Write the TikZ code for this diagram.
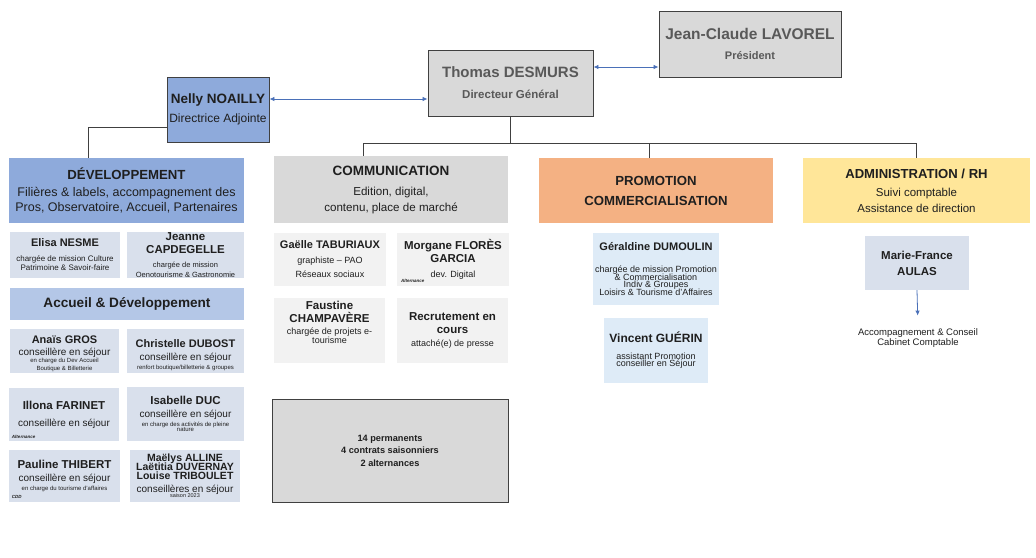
\documentclass[tikz,border=0pt]{standalone}
\usepackage{fontspec}
\setmainfont{Liberation Sans}
\usetikzlibrary{arrows.meta}

\definecolor{boxgray}{HTML}{D9D9D9}
\definecolor{palegray}{HTML}{F2F2F2}
\definecolor{devblue}{HTML}{8EAADB}
\definecolor{accblue}{HTML}{B4C7E7}
\definecolor{subblue}{HTML}{D9E0EC}
\definecolor{paleblue}{HTML}{DEEBF7}
\definecolor{promoorange}{HTML}{F4B183}
\definecolor{adminyellow}{HTML}{FFE699}
\definecolor{txtgray}{HTML}{595959}
\definecolor{txtdark}{HTML}{1F1F1F}
\definecolor{linegray}{HTML}{404040}
\definecolor{arrowblue}{HTML}{4A70B8}

\newcommand{\setfs}[1]{\fontsize{#1}{0}\selectfont}
\newcommand{\bfs}[1]{\fontsize{#1}{0}\selectfont\bfseries}

\begin{document}
\begin{tikzpicture}[x=1pt,y=-1pt,
    box/.style={rectangle,align=center,inner sep=1pt,text=txtdark,font=\setfs{10},
        execute at begin node={\lineskiplimit=-50pt}},
    framed/.style={box,draw=linegray,line width=0.9pt},
    wh/.style 2 args={minimum width=#1,minimum height=#2},
    link/.style={draw=linegray,line width=0.9pt},
    biarrow/.style={draw=arrowblue,line width=0.8pt,
        {Latex[length=5pt,width=4.5pt]}-{Latex[length=5pt,width=4.5pt]}},
    onearrow/.style={draw=arrowblue,line width=0.8pt,-{Latex[length=5pt,width=4.5pt]}},
    note/.style={font=\setfs{4.5}\bfseries\itshape,inner sep=0pt,anchor=south west,text=txtdark}]
\useasboundingbox (0,0) rectangle (1036,557);

% direction
\node[framed,fill=boxgray,wh={182}{66},text=txtgray] (Lavorel) at (750,44)
    {\bfs{15.5}Jean-Claude LAVOREL\\[20pt]\bfs{11}Président};
\node[framed,fill=boxgray,wh={165}{66},text=txtgray] (Desmurs) at (510.5,83)
    {\bfs{15}Thomas DESMURS\\[21pt]\bfs{11.5}Directeur Général};
\node[framed,fill=devblue,wh={102}{65}] (Noailly) at (218,109.5)
    {\bfs{13.5}Nelly NOAILLY\\[19pt]\setfs{12}Directrice Adjointe};

% developpement
\node[box,fill=devblue,wh={235}{65}] (Dev) at (126.5,190.5)
    {\bfs{13.2}DÉVELOPPEMENT\\[17pt]\setfs{12.5}Filières \& labels, accompagnement des\\[15pt]\setfs{12.5}Pros, Observatoire, Accueil, Partenaires};
\node[box,fill=subblue,wh={110}{46}] (Nesme) at (65,255)
    {\bfs{11}Elisa NESME\\[15pt]\setfs{8}chargée de mission Culture\\[9pt]\setfs{8}Patrimoine \& Savoir-faire};
\node[box,fill=subblue,wh={117}{46}] (Capdegelle) at (185.5,255)
    {\bfs{11.5}Jeanne\\[13pt]\bfs{11.5}CAPDEGELLE\\[14pt]\setfs{7.5}chargée de mission\\[10pt]\setfs{7.5}Oenotourisme \& Gastronomie};
\node[box,fill=accblue,wh={234}{32}] (Accueil) at (127,304)
    {\bfs{13.6}Accueil \& Développement};
\node[box,fill=subblue,wh={109}{44}] (Gros) at (64.5,351)
    {\mbox{}\\[13.5pt]\bfs{11}Anaïs GROS\\[11.5pt]\setfs{10}conseillère en séjour\\[7.5pt]\setfs{6}en charge du Dev Accueil\\[8pt]\setfs{6}Boutique \& Billetterie};
\node[box,fill=subblue,wh={117}{44}] (Dubost) at (185.5,351)
    {\mbox{}\\[15.5pt]\bfs{11}Christelle DUBOST\\[13.5pt]\setfs{10}conseillère en séjour\\[8.5pt]\setfs{6}renfort boutique/billetterie \& groupes};
\node[box,fill=subblue,wh={110}{53}] (Farinet) at (64,414.5)
    {\bfs{11.5}Illona FARINET\\[17pt]\setfs{10}conseillère en séjour};
\node[note] (FarinetAlt) at ([xshift=3pt,yshift=2pt]Farinet.south west) {Alternance};
\node[box,fill=subblue,wh={117}{54}] (Duc) at (185.5,414)
    {\bfs{11.5}Isabelle DUC\\[13pt]\setfs{10}conseillère en séjour\\[9pt]\setfs{6}en charge des activités de pleine\\[5pt]\setfs{6}nature};
\node[box,fill=subblue,wh={111}{52}] (Thibert) at (64.5,476)
    {\bfs{11.5}Pauline THIBERT\\[13pt]\setfs{10}conseillère en séjour\\[9pt]\setfs{6}en charge du tourisme d'affaires};
\node[note] (ThibertCdd) at ([xshift=3pt,yshift=3pt]Thibert.south west) {CDD};
\node[box,fill=subblue,wh={110}{52}] (Saison) at (185,476)
    {\bfs{10.5}Maëlys ALLINE\\[9pt]\bfs{10.5}Laëtitia DUVERNAY\\[9pt]\bfs{10.5}Louise TRIBOULET\\[13pt]\setfs{10}conseillères en séjour\\[5pt]\setfs{5.5}saison 2023};

% communication
\node[box,fill=boxgray,wh={234}{67}] (Comm) at (391,189.5)
    {\bfs{13.5}COMMUNICATION\\[20pt]\setfs{11.6}Edition, digital,\\[16pt]\setfs{11.6}contenu, place de marché};
\node[box,fill=palegray,wh={112}{53}] (Taburiaux) at (330,259.5)
    {\bfs{11}Gaëlle TABURIAUX\\[15pt]\setfs{9}graphiste – PAO\\[14pt]\setfs{9}Réseaux sociaux};
\node[box,fill=palegray,wh={112}{53}] (Flores) at (453,259.5)
    {\bfs{11.5}Morgane FLORÈS\\[13pt]\bfs{11.5}GARCIA\\[15pt]\setfs{9}dev. Digital};
\node[note] (FloresAlt) at ([xshift=4pt,yshift=3pt]Flores.south west) {Alternance};
\node[box,fill=palegray,wh={111}{65}] (Champavere) at (329.5,330.5)
    {\bfs{11.5}Faustine\\[13pt]\bfs{11.5}CHAMPAVÈRE\\[12pt]\setfs{9}chargée de projets e-\\[9pt]\setfs{9}tourisme\\[17pt]\mbox{}};
\node[box,fill=palegray,wh={111}{65}] (Presse) at (452.5,330.5)
    {\bfs{11.5}Recrutement en\\[13pt]\bfs{11.5}cours\\[13pt]\setfs{9}attaché(e) de presse};
\node[framed,fill=boxgray,wh={236}{103}] (Effectif) at (390,450.5)
    {\bfs{9.2}14 permanents\\[12.5pt]\bfs{9.2}4 contrats saisonniers\\[12.5pt]\bfs{9.2}2 alternances};

% promotion
\node[box,fill=promoorange,wh={234}{65}] (Promo) at (656,190.5)
    {\bfs{13.2}PROMOTION\\[20pt]\bfs{13.2}COMMERCIALISATION};
\node[box,fill=paleblue,wh={126}{72}] (Dumoulin) at (656,269)
    {\bfs{11}Géraldine DUMOULIN\\[22pt]\setfs{9}chargée de mission Promotion\\[8pt]\setfs{9}\& Commercialisation\\[7pt]\setfs{9}Indiv \& Groupes\\[8pt]\setfs{9}Loisirs \& Tourisme d'Affaires};
\node[box,fill=paleblue,wh={104}{65}] (Guerin) at (656,350.5)
    {\bfs{12}Vincent GUÉRIN\\[17pt]\setfs{9}assistant Promotion\\[7pt]\setfs{9}conseiller en Séjour};

% administration
\node[box,fill=adminyellow,wh={227}{65}] (Admin) at (916.5,190.5)
    {\bfs{13.1}ADMINISTRATION / RH\\[18pt]\setfs{11.5}Suivi comptable\\[16pt]\setfs{11.5}Assistance de direction};
\node[box,fill=subblue,wh={104}{54}] (Aulas) at (917,263)
    {\bfs{11.5}Marie-France\\[16pt]\bfs{11.5}AULAS};
\node[box] (Cabinet) at (918,338)
    {\setfs{9.5}Accompagnement \& Conseil\\[9.5pt]\setfs{9.5}Cabinet Comptable};

% liaisons
\coordinate (bus) at ([yshift=-27pt]Desmurs.south);
\draw[link] (Desmurs.south) -- (bus);
\draw[link] ([xshift=-28pt]Comm.north) |- (bus) -| (Admin.north);
\draw[link] ([xshift=-7pt]Promo.north) -- ([xshift=-7pt]Promo.north |- bus);
\draw[link] ([yshift=-17.5pt]Noailly.west) -| ([xshift=-38.5pt]Dev.north);
\draw[biarrow] ([yshift=10.5pt]Noailly.east) -- ([yshift=10.5pt]Noailly.east -| Desmurs.west);
\draw[biarrow] ([yshift=16pt]Desmurs.east) -- ([yshift=16pt]Desmurs.east -| Lavorel.west);
\draw[onearrow,shorten >=12pt] (Aulas.south) -- (Cabinet.north);
\end{tikzpicture}
\end{document}
